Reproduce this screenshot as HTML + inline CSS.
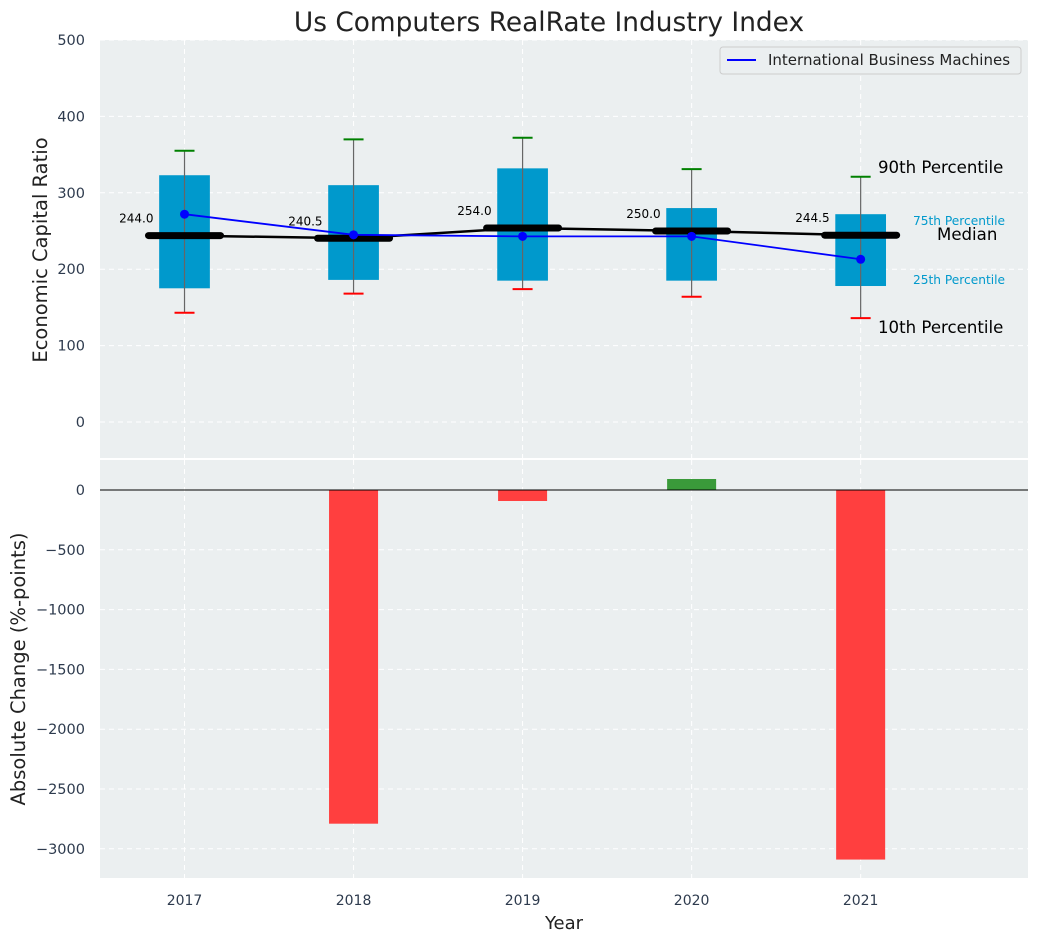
<!DOCTYPE html>
<html><head><meta charset="utf-8"><style>
body{margin:0;background:#fff;font-family:"Liberation Sans","DejaVu Sans",sans-serif}
</style></head><body>
<svg id="c" width="1039" height="942" xmlns="http://www.w3.org/2000/svg" font-family="DejaVu Sans, Liberation Sans, sans-serif"></svg>
<script>
const years=[2017,2018,2019,2020,2021];
const q1=[175,186,185,185,178];
const q3=[323,310,332,280,272];
const p10=[143,168,174,164,136];
const p90=[355,370,372,331,321];
const medians=[244.0,240.5,254.0,250.0,244.5];
const ibm=[272,245,243,243,213];
const changes=[0,-2790,-92,92,-3090];
const topTicks=[0,100,200,300,400,500];
const botTicks=[0,-500,-1000,-1500,-2000,-2500,-3000];

const NS="http://www.w3.org/2000/svg";
const svg=document.getElementById('c');
function el(t,a,p){const e=document.createElementNS(NS,t);for(const k in a)e.setAttribute(k,a[k]);(p||svg).appendChild(e);return e;}
const L=100,R=1028;
const x=v=>L+(v-2016.5)/(5.49)*(R-L);
const yT=v=>422-v*0.764;
const yB=v=>490-v*0.1196;

let p=el('rect',{x:L,y:40,width:R-L,height:418,fill:'#ebeff0'});

p=el('rect',{x:L,y:460,width:R-L,height:418,fill:'#ebeff0'});


years.forEach(yr=>{
  el('line',{x1:x(yr),x2:x(yr),y1:40,y2:458,stroke:'#fff','stroke-dasharray':'5,4','stroke-width':1});
  el('line',{x1:x(yr),x2:x(yr),y1:460,y2:878,stroke:'#fff','stroke-dasharray':'5,4','stroke-width':1});
  const t=el('text',{x:x(yr),y:905,'text-anchor':'middle','font-size':14,fill:'#2e3b4e'});t.textContent=yr;
  
});
topTicks.forEach(v=>{
  el('line',{x1:L,x2:R,y1:yT(v),y2:yT(v),stroke:'#fff','stroke-dasharray':'5,4'});
  const t=el('text',{x:85,y:yT(v)+5,'text-anchor':'end','font-size':14.5,fill:'#2e3b4e'});t.textContent=v;
  
});
botTicks.forEach(v=>{
  el('line',{x1:L,x2:R,y1:yB(v),y2:yB(v),stroke:'#fff','stroke-dasharray':'5,4'});
  const t=el('text',{x:85,y:yB(v)+5,'text-anchor':'end','font-size':14.5,fill:'#2e3b4e'});t.textContent=(v<0?'\u2212'+(-v):v);
  
});

const hw=0.15*(R-L)/5.49;
years.forEach((yr,i)=>{
  const cx=x(yr);
  const b=el('rect',{x:cx-hw,y:yT(q3[i]),width:2*hw,height:yT(q1[i])-yT(q3[i]),fill:'#0099cc'});
  
  el('line',{x1:cx,x2:cx,y1:yT(p90[i]),y2:yT(p10[i]),stroke:'#666','stroke-width':1.2});
  const g=el('line',{x1:cx-10,x2:cx+10,y1:yT(p90[i]),y2:yT(p90[i]),stroke:'green','stroke-width':2});
  
  const r=el('line',{x1:cx-10,x2:cx+10,y1:yT(p10[i]),y2:yT(p10[i]),stroke:'red','stroke-width':2});
  
});
let pts=years.map((yr,i)=>x(yr)+','+yT(medians[i])).join(' ');
el('polyline',{points:pts,fill:'none',stroke:'#000','stroke-width':2.5});
years.forEach((yr,i)=>{
  const m=el('line',{x1:x(yr)-36,x2:x(yr)+36,y1:yT(medians[i]),y2:yT(medians[i]),stroke:'#000','stroke-width':7,'stroke-linecap':'round'});
  
  const t=el('text',{x:x(yr)-31,y:yT(medians[i])-13,'text-anchor':'end','font-size':12,fill:'#000'});t.textContent=medians[i].toFixed(1);
  
});
pts=years.map((yr,i)=>x(yr)+','+yT(ibm[i])).join(' ');
const il=el('polyline',{points:pts,fill:'none',stroke:'blue','stroke-width':1.8});

years.forEach((yr,i)=>{const c=el('circle',{cx:x(yr),cy:yT(ibm[i]),r:4.5,fill:'blue'});
  });

[['90th Percentile',878,173,16.6,'#000'],['75th Percentile',913,225,12.2,'#0099cc'],['Median',937,240,16.6,'#000'],['25th Percentile',913,284,12.2,'#0099cc'],['10th Percentile',878,333,16.6,'#000']].forEach(a=>{
  const t=el('text',{x:a[1],y:a[2],'font-size':a[3],fill:a[4]});t.textContent=a[0];
  
});

const lg=el('g',{});
el('rect',{x:720,y:47,width:301,height:27,rx:3,fill:'#ebeff0',stroke:'#ccc'},lg);
el('line',{x1:727,x2:756,y1:60,y2:60,stroke:'blue','stroke-width':2},lg);
const lt=el('text',{x:768,y:65,'font-size':15,fill:'#222'},lg);lt.textContent='International Business Machines';

const bw=0.145*(R-L)/5.49;
years.forEach((yr,i)=>{
  const v=changes[i];if(v===0)return;
  const b=el('rect',{x:x(yr)-bw,y:Math.min(yB(0),yB(v)),width:2*bw,height:Math.abs(yB(v)-yB(0)),fill:v<0?'#ff3f3f':'#3a9a3a'});
  
});
el('line',{x1:L,x2:R,y1:yB(0),y2:yB(0),stroke:'#000','stroke-width':1});

let t=el('text',{x:549,y:31,'text-anchor':'middle','font-size':26.4,fill:'#222'});t.textContent='Us Computers RealRate Industry Index';

t=el('text',{x:564,y:929,'text-anchor':'middle','font-size':18,fill:'#222'});t.textContent='Year';

t=el('text',{x:47,y:250,'text-anchor':'middle','font-size':19.5,fill:'#222',transform:'rotate(-90 47 250)'});t.textContent='Economic Capital Ratio';

t=el('text',{x:25,y:669,'text-anchor':'middle','font-size':19.5,fill:'#222',transform:'rotate(-90 25 669)'});t.textContent='Absolute Change (%-points)';

</script>
</body></html>
